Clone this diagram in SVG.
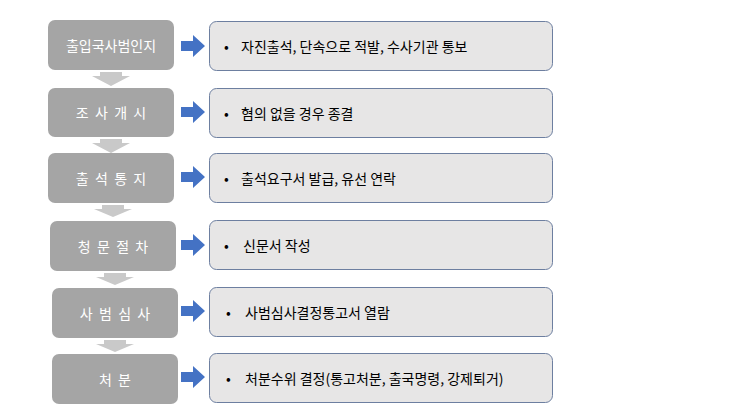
<svg xmlns="http://www.w3.org/2000/svg" width="743" height="418" viewBox="0 0 743 418">
<style>
.l{fill:#a5a5a5}
.r{fill:#e7e6e6;stroke:#6d7fa0;stroke-width:1}
.lt{font-family:"Noto Sans CJK KR",sans-serif;font-size:14px;fill:#ffffff;text-anchor:middle;dominant-baseline:central}
.rt{font-family:"Noto Sans CJK KR",sans-serif;font-size:14px;fill:#000;dominant-baseline:central}
.b{fill:#4472c4}
.g{fill:#c9c9c9}
</style>
<rect width="743" height="418" fill="#fff"/>
<g id="connectors">
<path class="g" d="M100,72h22v4h8l-19,10l-19,-10h8z"/>
<path class="g" d="M100,139h22v4h8l-19,10l-19,-10h8z"/>
<path class="g" d="M102,205h22v4h8l-19,8l-19,-8h8z"/>
<path class="g" d="M104,273h22v4h8l-19,8l-19,-8h8z"/>
<path class="g" d="M104,340h22v4h8l-19,8l-19,-8h8z"/>
<path class="b" d="M181,41h12v-6l12,11l-12,11v-6h-12z"/>
<path class="b" d="M181,107h12v-6l12,11l-12,11v-6h-12z"/>
<path class="b" d="M181,172h12v-6l12,11l-12,11v-6h-12z"/>
<path class="b" d="M181,240h12v-6l12,11l-12,11v-6h-12z"/>
<path class="b" d="M181,306h12v-6l12,11l-12,11v-6h-12z"/>
<path class="b" d="M181,372h12v-6l12,11l-12,11v-6h-12z"/>
</g>
<g id="n1"><rect class="l" x="48" y="20" width="126" height="50" rx="7"/><text class="lt" x="111" y="45">출입국사범인지</text></g>
<g id="n2"><rect class="l" x="48" y="88" width="126" height="49" rx="7"/><text class="lt" x="111" y="112" xml:space="preserve">조  사  개  시</text></g>
<g id="n3"><rect class="l" x="48" y="153" width="126" height="50" rx="7"/><text class="lt" x="111" y="178" xml:space="preserve">출  석  통  지</text></g>
<g id="n4"><rect class="l" x="50" y="221" width="126" height="50" rx="7"/><text class="lt" x="113" y="246" xml:space="preserve">청  문  절  차</text></g>
<g id="n5"><rect class="l" x="52" y="288" width="126" height="50" rx="7"/><text class="lt" x="115" y="313" xml:space="preserve">사  범  심  사</text></g>
<g id="n6"><rect class="l" x="52" y="354" width="126" height="50" rx="7"/><text class="lt" x="115" y="379" xml:space="preserve">처  분</text></g>
<g id="d1"><rect class="r" x="209.5" y="21.5" width="343" height="49" rx="7"/><text class="rt" x="224" y="46">•</text><text class="rt" x="241" y="46">자진출석, 단속으로 적발, 수사기관 통보</text></g>
<g id="d2"><rect class="r" x="209.5" y="88.5" width="343" height="49" rx="7"/><text class="rt" x="224" y="113">•</text><text class="rt" x="241" y="113">혐의 없을 경우 종결</text></g>
<g id="d3"><rect class="r" x="209.5" y="153.5" width="343" height="49" rx="7"/><text class="rt" x="224" y="178">•</text><text class="rt" x="241" y="178">출석요구서 발급, 유선 연락</text></g>
<g id="d4"><rect class="r" x="209.5" y="220.5" width="343" height="49" rx="7"/><text class="rt" x="224" y="245">•</text><text class="rt" x="243" y="245">신문서 작성</text></g>
<g id="d5"><rect class="r" x="209.5" y="287.5" width="343" height="49" rx="7"/><text class="rt" x="226" y="312">•</text><text class="rt" x="245" y="312">사범심사결정통고서 열람</text></g>
<g id="d6"><rect class="r" x="209.5" y="353.5" width="343" height="49" rx="7"/><text class="rt" x="226" y="378">•</text><text class="rt" x="245" y="378">처분수위 결정(통고처분, 출국명령, 강제퇴거)</text></g>
</svg>
